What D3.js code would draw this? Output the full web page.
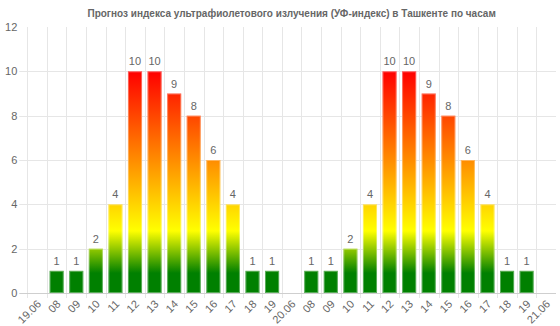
<!DOCTYPE html>
<html>
<head>
<meta charset="utf-8">
<script src="https://cdn.jsdelivr.net/npm/d3@7"></script>
<style>
  html, body { margin: 0; padding: 0; background: #fff; }
  svg { display: block; font-family: "Liberation Sans", Arial, Helvetica, sans-serif; }
</style>
</head>
<body>
<svg id="chart" width="560" height="326"></svg>
<script>
// Hourly UV index forecast for Tashkent, two days
const titleText = "Прогноз индекса ультрафиолетового излучения (УФ-индекс) в Ташкенте по часам";
const categories = ["19.06", "08", "09", "10", "11", "12", "13", "14", "15", "16", "17", "18", "19",
                    "20.06", "08", "09", "10", "11", "12", "13", "14", "15", "16", "17", "18", "19",
                    "21.06"];
const day1Values = [1, 1, 2, 4, 10, 10, 9, 8, 6, 4, 1, 1];
const day2Values = [1, 1, 2, 4, 10, 10, 9, 8, 6, 4, 1, 1];
const yTicks = [0, 2, 4, 6, 8, 10, 12];

// date separators carry no value
const values = [null, ...day1Values, null, ...day2Values, null];
const rows = categories.map((c, i) => ({ key: i, label: c, value: values[i] }));

const svg = d3.select("#chart");
const margin = { left: 27.3, right: 4, top: 27, bottom: 33 };
const W = 560, H = 326;

const x = d3.scaleBand()
  .domain(rows.map(d => d.key))
  .range([margin.left, W - margin.right])
  .padding(0);

const y = d3.scaleLinear()
  .domain([0, 12])
  .range([H - margin.bottom, margin.top]);

// gradient in chart coordinates: green at the bottom, red at the top
const defs = svg.append("defs");
const grad = defs.append("linearGradient")
  .attr("id", "uvGrad")
  .attr("gradientUnits", "userSpaceOnUse")
  .attr("x1", 0).attr("x2", 0)
  .attr("y1", y(0)).attr("y2", y(12));
const stops = [
  [0, "#008000"], [0.9, "#008000"], [2.8, "#ffff00"], [6, "#ff8c00"], [10, "#ff0000"], [12, "#d8003a"]
];
stops.forEach(([v, c]) => grad.append("stop").attr("offset", v / 12).attr("stop-color", c));

const gridColor = "#e6e6e6";

// horizontal grid (with tick stubs to the left)
svg.append("g").selectAll("line")
  .data(yTicks.filter(t => t > 0 && t < 12))
  .join("line")
  .attr("x1", margin.left - 8).attr("x2", W - margin.right)
  .attr("y1", d => Math.round(y(d)) + 0.5).attr("y2", d => Math.round(y(d)) + 0.5)
  .attr("stroke", gridColor).attr("stroke-width", 1);

// vertical grid at band edges (with tick stubs below)
svg.append("g").selectAll("line")
  .data(rows)
  .join("line")
  .attr("x1", d => Math.round(x(d.key)) + 0.5).attr("x2", d => Math.round(x(d.key)) + 0.5)
  .attr("y1", y(12)).attr("y2", y(0) + 5)
  .attr("stroke", gridColor).attr("stroke-width", 1);

// baseline
svg.append("line")
  .attr("x1", margin.left - 8).attr("x2", W - margin.right)
  .attr("y1", Math.round(y(0)) + 0.5).attr("y2", Math.round(y(0)) + 0.5)
  .attr("stroke", "#cfcfcf").attr("stroke-width", 1);

// y tick labels
svg.append("g").selectAll("text")
  .data(yTicks)
  .join("text")
  .attr("x", margin.left - 10)
  .attr("y", d => y(d))
  .attr("dy", "0.35em")
  .attr("text-anchor", "end")
  .attr("font-size", 11)
  .attr("fill", "#666")
  .text(d => d);

// x tick labels, rotated
svg.append("g").selectAll("text")
  .data(rows)
  .join("text")
  .attr("transform", d => `translate(${x(d.key) + x.bandwidth() / 2 + 2},${y(0) + 9}) rotate(-45)`)
  .attr("text-anchor", "end")
  .attr("dy", "0.35em")
  .attr("font-size", 11)
  .attr("fill", "#666")
  .text(d => d.label);

// bars
const barFrac = 0.72;
const bw = x.bandwidth() * barFrac;
const withValue = rows.filter(d => d.value != null);
svg.append("g").selectAll("rect")
  .data(withValue)
  .join("rect")
  .attr("x", d => x(d.key) + (x.bandwidth() - bw) / 2)
  .attr("y", d => y(d.value))
  .attr("width", bw)
  .attr("height", d => y(0) - y(d.value))
  .attr("fill", "url(#uvGrad)");

// bar outlines, semi-transparent
svg.append("g").selectAll("rect")
  .data(withValue)
  .join("rect")
  .attr("x", d => x(d.key) + (x.bandwidth() - bw) / 2 + 0.5)
  .attr("y", d => y(d.value) + 0.5)
  .attr("width", bw - 1)
  .attr("height", d => y(0) - y(d.value) - 1)
  .attr("fill", "none")
  .attr("stroke", "#fff")
  .attr("stroke-opacity", 0.35)
  .attr("stroke-width", 1);

// value labels
svg.append("g").selectAll("text")
  .data(withValue)
  .join("text")
  .attr("x", d => x(d.key) + x.bandwidth() / 2)
  .attr("y", d => y(d.value) - 6)
  .attr("text-anchor", "middle")
  .attr("font-size", 11)
  .attr("fill", "#666")
  .text(d => d.value);

// title
svg.append("text")
  .attr("x", (margin.left + W - margin.right) / 2)
  .attr("y", 17)
  .attr("text-anchor", "middle")
  .attr("font-size", 10)
  .attr("font-weight", "bold")
  .attr("fill", "#666")
  .text(titleText);
</script>
</body>
</html>
